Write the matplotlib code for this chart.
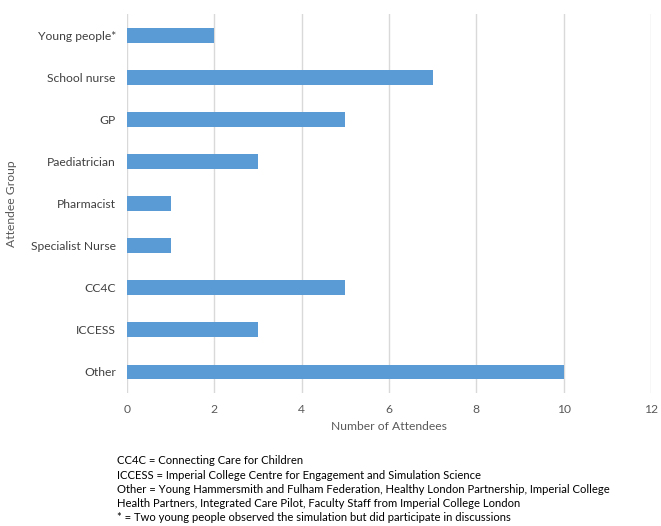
import matplotlib
matplotlib.use('Agg')
import matplotlib.pyplot as plt

# data
groups = ['Young people*', 'School nurse', 'GP', 'Paediatrician', 'Pharmacist',
          'Specialist Nurse', 'CC4C', 'ICCESS', 'Other']
attendees = [2, 7, 5, 3, 1, 1, 5, 3, 10]
xticks = [0, 2, 4, 6, 8, 10, 12]

notes = ['CC4C = Connecting Care for Children',
         'ICCESS = Imperial College Centre for Engagement and Simulation Science',
         'Other = Young Hammersmith and Fulham Federation, Healthy London Partnership, Imperial College',
         'Health Partners, Integrated Care Pilot, Faculty Staff from Imperial College London',
         '* = Two young people observed the simulation but did participate in discussions']

plt.rcParams['font.family'] = ['Lato', 'DejaVu Sans']

fig = plt.figure(figsize=(6.61, 5.26), dpi=100)
ax = fig.add_axes([0.192, 0.253, 0.793, 0.72])

ypos = list(range(len(groups)))
ax.barh(ypos, attendees, height=0.35, color='#5b9bd5', zorder=3)
ax.set_yticks(ypos)
ax.set_yticklabels(groups, fontsize=8.7, color='#404040')
ax.set_ylim(len(groups) - 0.5, -0.5)

ax.set_xlim(0, 12)
ax.set_xticks(xticks)
ax.set_xticklabels([str(t) for t in xticks], fontsize=8.7, color='#595959')
ax.grid(axis='x', color='#d9d9d9', linewidth=1, zorder=0)
for s in ax.spines.values():
    s.set_visible(False)
ax.tick_params(axis='y', length=0, pad=8)
ax.tick_params(axis='x', length=0, pad=8)

ax.set_xlabel('Number of Attendees', fontsize=8.7, color='#595959', labelpad=4)
ax.set_ylabel('Attendee Group', fontsize=8.7, color='#595959', labelpad=10)

y0 = 1 - 461 / 526
for i, line in enumerate(notes):
    fig.text(117 / 661, y0 - i * 14.2 / 526, line, fontsize=8.1, color='black', va='center')

fig.savefig('out.png', dpi=100)
